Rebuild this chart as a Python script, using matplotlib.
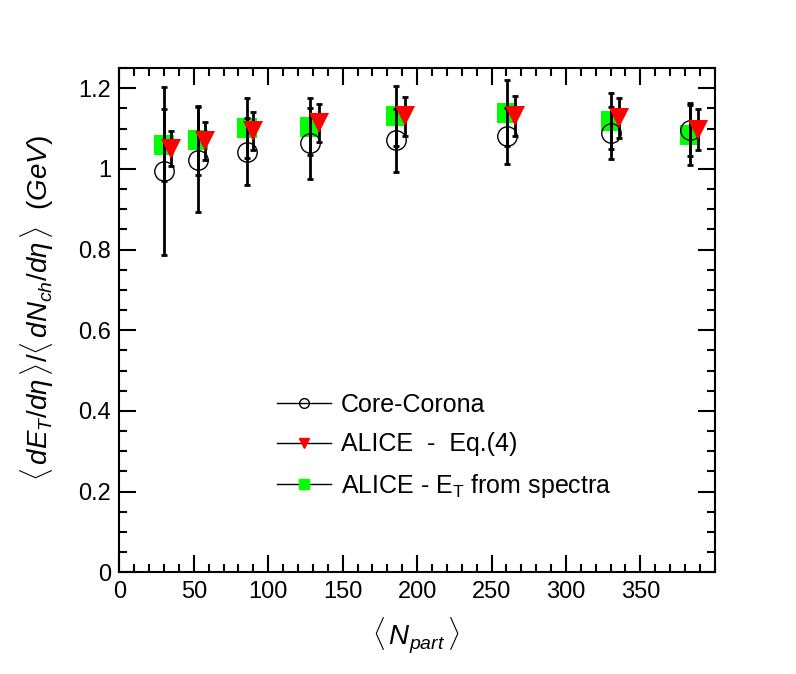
import matplotlib
matplotlib.use('Agg')
import matplotlib.pyplot as plt
from matplotlib.lines import Line2D
from matplotlib.ticker import MultipleLocator, FuncFormatter

plt.rcParams['font.family'] = ['Liberation Sans', 'DejaVu Sans']
plt.rcParams['mathtext.fontset'] = 'custom'
plt.rcParams['mathtext.rm'] = 'Liberation Sans'
plt.rcParams['mathtext.it'] = 'Liberation Sans:italic'

# Core-Corona
npart_cc = [30, 52.5, 85.5, 128, 186, 260.5, 330.5, 383.5]
et_cc = [0.994, 1.023, 1.043, 1.063, 1.071, 1.081, 1.089, 1.097]
err_cc = [0.208, 0.13, 0.083, 0.088, 0.078, 0.069, 0.065, 0.066]

# ALICE - E_T from spectra
npart_sp = [30, 52.5, 85.5, 128, 186, 260.5, 330.5, 383.5]
et_sp = [1.059, 1.071, 1.101, 1.105, 1.131, 1.138, 1.119, 1.084]
err_sp = [0.09, 0.086, 0.075, 0.071, 0.075, 0.082, 0.07, 0.075]

# ALICE - Eq.(4)
npart_eq = [35, 57.7, 90, 134, 191.8, 265.7, 335.3, 388.7]
et_eq = [1.05, 1.069, 1.095, 1.113, 1.130, 1.131, 1.126, 1.097]
err_eq = [0.043, 0.048, 0.047, 0.047, 0.049, 0.05, 0.05, 0.051]

fig = plt.figure(figsize=(7.96, 6.74), dpi=100)
ax = fig.add_axes([0.15, 0.151, 0.748, 0.748])

ax.plot(npart_sp, et_sp, 's', color='#00ff00', ms=14, mew=0, zorder=2)
ax.errorbar(npart_sp, et_sp, yerr=err_sp, fmt='none', ecolor='black',
            elinewidth=2, capsize=2, capthick=2, zorder=3)
ax.errorbar(npart_cc, et_cc, yerr=err_cc, fmt='none', ecolor='black',
            elinewidth=2, capsize=2, capthick=2, zorder=3)
ax.plot(npart_cc, et_cc, 'o', mfc='none', mec='black', mew=1, ms=14, zorder=3)
ax.errorbar(npart_eq, et_eq, yerr=err_eq, fmt='none', ecolor='black',
            elinewidth=2, capsize=2, capthick=2, zorder=4)
ax.plot(npart_eq, et_eq, 'v', color='red', ms=14, mew=0, zorder=5)

ax.set_xlim(0, 400)
ax.set_ylim(0, 1.25)
ax.xaxis.set_major_locator(MultipleLocator(50))
ax.xaxis.set_minor_locator(MultipleLocator(10))
ax.yaxis.set_major_locator(MultipleLocator(0.2))
ax.yaxis.set_minor_locator(MultipleLocator(0.05))
ax.yaxis.set_major_formatter(FuncFormatter(lambda v, p: '{:g}'.format(round(v, 2))))
ax.set_xticks([0, 50, 100, 150, 200, 250, 300, 350])

ax.tick_params(which='both', direction='in', top=True, right=True, width=1.5,
               labelsize=17)
ax.tick_params(which='major', length=12, pad=6)
ax.tick_params(which='minor', length=6)
for s in ax.spines.values():
    s.set_linewidth(1.5)

fig.text(0.522, 0.057, r'$\langle\,N_{part}\,\rangle$', fontsize=20, ha='center', va='center')
fig.text(0.047, 0.543,
         r'$\langle\,dE_{T}/d\eta\,\rangle/\langle\,dN_{ch}/d\eta\,\rangle\ \ (GeV)$',
         fontsize=20, rotation=90, ha='center', va='center')

handles = [
    Line2D([], [], color='black', lw=1, marker='o', mfc='none', mec='black', ms=7),
    Line2D([], [], color='black', lw=1, marker='v', mfc='red', mec='red', ms=7),
    Line2D([], [], color='black', lw=1, marker='s', mfc='#00ff00', mec='#00ff00', ms=7),
]
labels = ['Core-Corona', 'ALICE  -  Eq.(4)', r'ALICE - E$_{\mathrm{T}}$ from spectra']
ax.legend(handles, labels, loc='upper left', bbox_to_anchor=(0.348, 0.417),
          bbox_transform=fig.transFigure, frameon=False, fontsize=18,
          handlelength=2.16, handletextpad=0.4, labelspacing=0.62, borderpad=0,
          borderaxespad=0)

fig.savefig('out.png', dpi=100)
